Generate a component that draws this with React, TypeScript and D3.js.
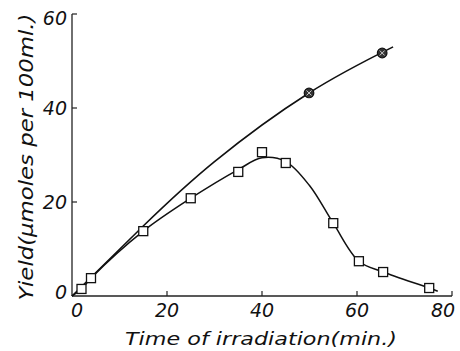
import React from "react";
import * as d3 from "d3";

const xTicks = [0, 20, 40, 60, 80];
const yTicks = [0, 20, 40, 60];

const squareTimes = [2, 4, 15, 25, 35, 40, 45, 55, 60.4, 65.5, 75.2];
const squareYields = [1.5, 3.8, 13.8, 20.8, 26.4, 30.6, 28.3, 15.5, 7.4, 5.1, 1.7];

const circleTimes = [49.9, 65.3];
const circleYields = [43.2, 51.7];

const upperCurveTimes = [0, 15, 30, 49.9, 67.6];
const upperCurveYields = [0, 14.9, 28.6, 43.2, 53];

const lowerCurveTimes = [0, 2, 4, 15, 25, 35, 40, 45, 50, 55, 60.4, 65.5, 75.2, 77];
const lowerCurveYields = [0, 1.5, 3.8, 13.8, 20.8, 26.9, 29.4, 28.6, 23.5, 15.5, 7.4, 5.1, 1.7, 1.0];

const xLabel = "Time of irradiation(min.)";
const yLabel = "Yield(\u03bcmoles per 100ml.)";

export default function App() {
  const W = 460, H = 351;
  const x = d3.scaleLinear().domain([0, 80]).range([72, 452]);
  const y = d3.scaleLinear().domain([0, 60]).range([296, 14]);
  const font = "'DejaVu Sans', sans-serif";

  const upperLine = d3
    .line<[number, number]>()
    .x((d) => x(d[0]))
    .y((d) => y(d[1]))
    .curve(d3.curveNatural);
  const lowerLine = d3
    .line<[number, number]>()
    .x((d) => x(d[0]))
    .y((d) => y(d[1]))
    .curve(d3.curveCatmullRom.alpha(0.5));

  const upper = upperLine(upperCurveTimes.map((t, i) => [t, upperCurveYields[i]]) as [number, number][]);
  const lower = lowerLine(lowerCurveTimes.map((t, i) => [t, lowerCurveYields[i]]) as [number, number][]);

  const xDx = (v: number) => (v === 0 ? 5 : v === 80 ? -9 : 0);

  return (
    <svg width={W} height={H} style={{ position: "absolute", left: 0, top: 0, background: "#fff" }}>
      <line x1={x(0)} x2={x(0)} y1={y(60)} y2={y(0)} stroke="#222" strokeWidth={1.3} />
      <line x1={x(0)} x2={x(80)} y1={y(0)} y2={y(0)} stroke="#222" strokeWidth={1.3} />
      {yTicks.filter((v) => v > 0).map((v) => (
        <line key={"yt" + v} x1={x(0)} x2={x(0) + 5} y1={y(v)} y2={y(v)} stroke="#222" strokeWidth={1.2} />
      ))}
      {xTicks.filter((v) => v > 0).map((v) => (
        <line key={"xt" + v} x1={x(v)} x2={x(v)} y1={y(0)} y2={y(0) - 5} stroke="#222" strokeWidth={1.2} />
      ))}
      {yTicks.map((v) => (
        <text
          key={"yl" + v}
          x={x(0) - 5}
          y={y(v) + (v === 60 ? 4 : v === 0 ? -4 : 0)}
          textAnchor="end"
          dominantBaseline="central"
          fontFamily={font}
          fontStyle="italic"
          fontSize={19}
          fill="#111"
        >
          {v}
        </text>
      ))}
      {xTicks.map((v) => (
        <text
          key={"xl" + v}
          x={x(v) + xDx(v)}
          y={317}
          textAnchor="middle"
          fontFamily={font}
          fontStyle="italic"
          fontSize={19}
          fill="#111"
        >
          {v}
        </text>
      ))}
      <text
        x={261}
        y={345}
        textAnchor="middle"
        fontFamily={font}
        fontStyle="italic"
        fontSize={17}
        textLength={272}
        lengthAdjust="spacingAndGlyphs"
        fill="#111"
      >
        {xLabel}
      </text>
      <text
        transform={`translate(33,157) rotate(-90)`}
        textAnchor="middle"
        fontFamily={font}
        fontStyle="italic"
        fontSize={19}
        textLength={287}
        lengthAdjust="spacingAndGlyphs"
        fill="#111"
      >
        {yLabel}
      </text>

      <path d={upper || ""} fill="none" stroke="#111" strokeWidth={1.6} />
      <path d={lower || ""} fill="none" stroke="#111" strokeWidth={1.5} />

      {squareTimes.map((t, i) => (
        <rect
          key={"sq" + i}
          x={x(t) - 4.5}
          y={y(squareYields[i]) - 4.5}
          width={9}
          height={9}
          fill="#fff"
          stroke="#111"
          strokeWidth={1.3}
        />
      ))}
      {circleTimes.map((t, i) => {
        const cx = x(t), cy = y(circleYields[i]);
        return (
          <g key={"ci" + i}>
            <circle cx={cx} cy={cy} r={4.8} fill="#333" stroke="#111" strokeWidth={1.2} />
            <line x1={cx - 2.5} y1={cy - 2.5} x2={cx + 2.5} y2={cy + 2.5} stroke="#ddd" strokeWidth={0.9} />
            <line x1={cx - 2.5} y1={cy + 2.5} x2={cx + 2.5} y2={cy - 2.5} stroke="#ddd" strokeWidth={0.9} />
          </g>
        );
      })}
    </svg>
  );
}
